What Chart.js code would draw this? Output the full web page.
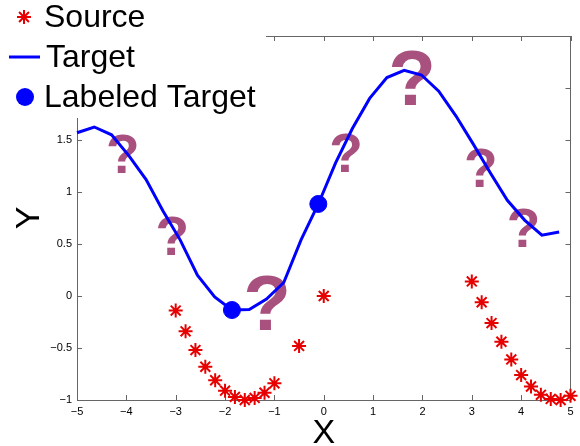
<!DOCTYPE html>
<html>
<head>
<meta charset="utf-8">
<title>Source / Target</title>
<script src="https://cdn.jsdelivr.net/npm/chart.js@4.4.1/dist/chart.umd.min.js"></script>
<style>
    html, body { margin: 0; padding: 0; background: #fff; }
    #wrap { width: 580px; height: 446px; }
</style>
</head>
<body>
<div id="wrap"><canvas id="chart" width="580" height="446"></canvas></div>
<script>
// source samples (red asterisks)
var srcX = [-3, -2.8, -2.6, -2.4, -2.2, -2, -1.8, -1.6, -1.4, -1.2, -1, -0.5, 0,
            3, 3.2, 3.4, 3.6, 3.8, 4, 4.2, 4.4, 4.6, 4.8, 5];
var srcY = [-0.14, -0.34, -0.52, -0.68, -0.81, -0.91, -0.97, -1.0, -0.98, -0.93, -0.84, -0.48, 0,
            0.14, -0.06, -0.26, -0.44, -0.61, -0.76, -0.87, -0.95, -0.99, -1.0, -0.96];

// target curve (blue line)
var tgtX = [-5, -4.65, -4.3, -3.95, -3.6, -3.26, -2.91, -2.56, -2.21, -1.86, -1.51, -1.16, -0.81, -0.46, -0.11,
            0.24, 0.58, 0.93, 1.28, 1.63, 1.98, 2.33, 2.68, 3.03, 3.38, 3.72, 4.07, 4.42, 4.77];
var tgtY = [1.57, 1.625, 1.55, 1.35, 1.12, 0.82, 0.54, 0.2, -0.01, -0.135, -0.13, -0.03, 0.13, 0.54, 0.885,
            1.28, 1.61, 1.9, 2.1, 2.17, 2.125, 1.97, 1.73, 1.46, 1.18, 0.92, 0.73, 0.585, 0.615];

// labeled target points (blue dots)
var labX = [-1.86, -0.11];
var labY = [-0.135, 0.885];

// question marks (glyph centres in data units)
var qX = [-4.07, -3.07, -1.15, 0.45, 1.79, 3.18, 4.05];
var qY = [1.375, 0.587, -0.06, 1.38, 2.105, 1.24, 0.66];
var qBig = [false, false, true, false, true, false, false];

var xTicks = [-5, -4, -3, -2, -1, 0, 1, 2, 3, 4, 5];
var yTicks = [-1, -0.5, 0, 0.5, 1, 1.5, 2, 2.5];

var FONT = '"Liberation Sans", Arial, Helvetica, sans-serif';
var RED = '#e60000';
var BLUE = '#0000ff';
var QCOL = '#a8507e';

function pts(xs, ys) {
    var out = [];
    for (var i = 0; i < xs.length; i++) out.push({ x: xs[i], y: ys[i] });
    return out;
}

function minusSign(v) {
    return String(v).replace('-', '\u2212');
}

function drawStar(ctx, x, y, r) {
    var d = r * Math.SQRT1_2;
    ctx.beginPath();
    ctx.moveTo(x - r, y); ctx.lineTo(x + r, y);
    ctx.moveTo(x, y - r); ctx.lineTo(x, y + r);
    ctx.moveTo(x - d, y - d); ctx.lineTo(x + d, y + d);
    ctx.moveTo(x - d, y + d); ctx.lineTo(x + d, y - d);
    ctx.stroke();
}

var framePlugin = {
    id: 'frameAndMarks',
    beforeDatasetsDraw: function(chart) {
        var ctx = chart.ctx;
        var a = chart.chartArea;
        var xs = chart.scales.x, ys = chart.scales.y;
        var i, p;
        ctx.save();
        ctx.strokeStyle = '#666';
        ctx.lineWidth = 1;
        ctx.strokeRect(Math.round(a.left) + 0.5, Math.round(a.top) + 0.5,
            Math.round(a.right - a.left) - 1, Math.round(a.bottom - a.top));
        ctx.beginPath();
        for (i = 0; i < xTicks.length; i++) {
            p = Math.round(xs.getPixelForValue(xTicks[i])) + 0.5;
            ctx.moveTo(p, a.bottom); ctx.lineTo(p, a.bottom - 5);
            ctx.moveTo(p, a.top); ctx.lineTo(p, a.top + 5);
        }
        for (i = 0; i < yTicks.length; i++) {
            p = Math.round(ys.getPixelForValue(yTicks[i])) + 0.5;
            ctx.moveTo(a.left, p); ctx.lineTo(a.left + 5, p);
            ctx.moveTo(a.right, p); ctx.lineTo(a.right - 5, p);
        }
        ctx.stroke();

        // question marks
        ctx.fillStyle = QCOL;
        ctx.textAlign = 'center';
        ctx.textBaseline = 'alphabetic';
        for (i = 0; i < qX.length; i++) {
            var size = qBig[i] ? 78 : 55;
            ctx.font = 'bold ' + size + 'px ' + FONT;
            ctx.fillText('?', xs.getPixelForValue(qX[i]), ys.getPixelForValue(qY[i]) + size * 0.36);
        }
        ctx.restore();
    },
    afterDraw: function(chart) {
        var ctx = chart.ctx;
        var a = chart.chartArea;
        ctx.save();
        // axis titles
        ctx.fillStyle = '#000';
        ctx.textAlign = 'center';
        ctx.textBaseline = 'middle';
        ctx.font = '34px ' + FONT;
        ctx.fillText('X', (a.left + a.right) / 2, 434);
        ctx.translate(30, (a.top + a.bottom) / 2);
        ctx.rotate(-Math.PI / 2);
        ctx.fillText('Y', 0, 0);
        ctx.setTransform(1, 0, 0, 1, 0, 0);

        // legend
        ctx.fillStyle = '#fff';
        ctx.fillRect(0, 0, 266, 118);
        ctx.strokeStyle = RED;
        ctx.lineWidth = 2;
        drawStar(ctx, 24, 17, 7);
        ctx.strokeStyle = BLUE;
        ctx.lineWidth = 3;
        ctx.beginPath();
        ctx.moveTo(9, 57); ctx.lineTo(40, 57);
        ctx.stroke();
        ctx.fillStyle = BLUE;
        ctx.beginPath();
        ctx.arc(25, 97, 9, 0, Math.PI * 2);
        ctx.fill();

        ctx.fillStyle = '#000';
        ctx.textAlign = 'left';
        ctx.textBaseline = 'alphabetic';
        ctx.font = '32px ' + FONT;
        ctx.fillText('Source', 44, 27);
        ctx.fillText('Target', 46, 67);
        ctx.fillText('Labeled Target', 44, 107);
        ctx.restore();
    }
};

Chart.defaults.font.family = FONT;
Chart.defaults.color = '#000';

var chart = new Chart(document.getElementById('chart').getContext('2d'), {
    type: 'scatter',
    data: {
        datasets: [{
            label: 'Labeled Target',
            data: pts(labX, labY),
            pointStyle: 'circle',
            pointRadius: 8.5,
            backgroundColor: BLUE,
            borderColor: BLUE,
            borderWidth: 1,
            clip: false,
            order: 0
        }, {
            label: 'Target',
            data: pts(tgtX, tgtY),
            showLine: true,
            borderColor: BLUE,
            borderWidth: 3,
            pointRadius: 0,
            tension: 0,
            clip: false,
            order: 1
        }, {
            label: 'Source',
            data: pts(srcX, srcY),
            pointStyle: 'star',
            pointRadius: 7,
            borderColor: RED,
            backgroundColor: RED,
            borderWidth: 2,
            clip: false,
            order: 2
        }]
    },
    options: {
        responsive: false,
        devicePixelRatio: 1,
        animation: false,
        events: [],
        layout: { padding: { top: 36, right: 4, left: 0, bottom: 0 } },
        plugins: {
            legend: { display: false },
            tooltip: { enabled: false }
        },
        scales: {
            x: {
                type: 'linear',
                min: -5,
                max: 5,
                grid: { display: false, drawTicks: false },
                border: { display: false },
                afterBuildTicks: function(scale) {
                    scale.ticks = xTicks.map(function(v) { return { value: v }; });
                },
                afterFit: function(scale) { scale.height = 46; },
                ticks: {
                    padding: 5,
                    font: { size: 11 },
                    maxRotation: 0,
                    autoSkip: false,
                    callback: function(v) { return minusSign(v); }
                }
            },
            y: {
                type: 'linear',
                min: -1,
                max: 2.5,
                grid: { display: false, drawTicks: false },
                border: { display: false },
                afterBuildTicks: function(scale) {
                    scale.ticks = yTicks.map(function(v) { return { value: v }; });
                },
                afterFit: function(scale) { scale.width = 77; },
                ticks: {
                    padding: 5,
                    font: { size: 11 },
                    autoSkip: false,
                    callback: function(v) { return minusSign(v); }
                }
            }
        }
    },
    plugins: [framePlugin]
});
</script>
</body>
</html>
